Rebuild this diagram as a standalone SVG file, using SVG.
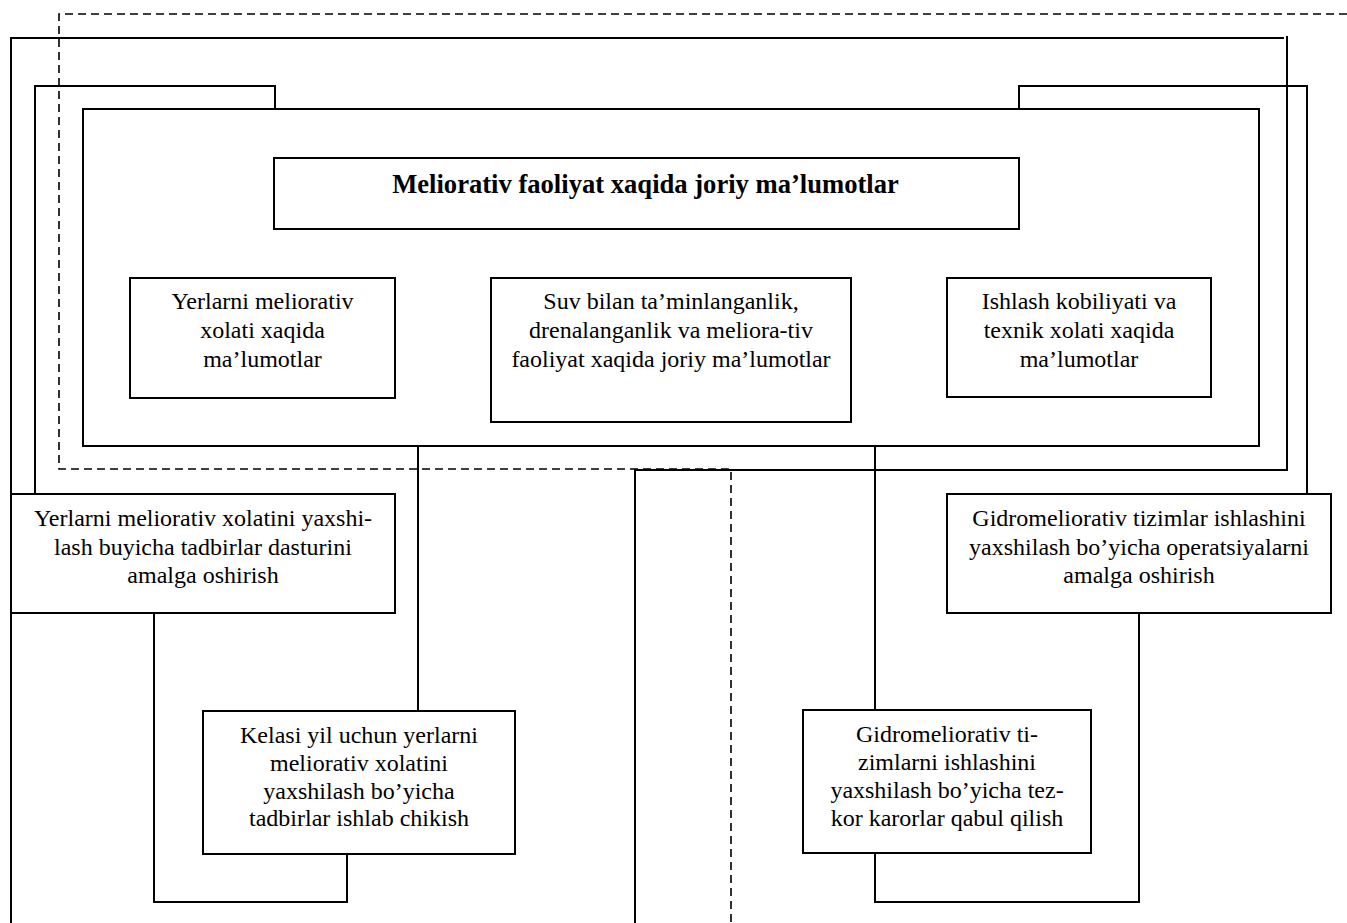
<svg xmlns="http://www.w3.org/2000/svg" width="1347" height="923" viewBox="0 0 1347 923">
<style>
.box{fill:#fff;stroke:#000;stroke-width:2}
.frame{fill:none;stroke:#000;stroke-width:2}
.ln{fill:none;stroke:#000;stroke-width:2}
.dash{fill:none;stroke:#000;stroke-width:1.6;stroke-dasharray:8,5}
text{font-family:"Liberation Serif","Times New Roman",serif;font-size:24px;fill:#000;text-anchor:middle}
.title{font-weight:bold;font-size:26.6px}
</style>
<rect width="1347" height="923" fill="#fff"/>
<g id="connectors">
<path class="dash" d="M1347,14 H59 V469 H731 V923"/>
<path class="ln" d="M11,923 V38 H1284"/>
<path class="ln" d="M1287,36 V470 H635 V923"/>
<path class="ln" d="M35,494 V86 H275 V109"/>
<path class="ln" d="M1019,109 V86 H1307 V494"/>
<path class="ln" d="M418,446 V711"/>
<path class="ln" d="M875,446 V710"/>
<path class="ln" d="M154,613 V902 H347 V854"/>
<path class="ln" d="M875,853 V902 H1139 V613"/>
</g>
<g id="frame">
<rect class="frame" x="83" y="109" width="1176" height="337"/>
</g>
<g id="n-title">
<rect class="box" x="274" y="158" width="745" height="71"/>
<text class="title" x="645.5" y="193">Meliorativ faoliyat xaqida joriy ma’lumotlar</text>
</g>
<g id="n-left">
<rect class="box" x="130" y="278" width="265" height="120"/>
<text x="262.5" y="309">Yerlarni meliorativ</text>
<text x="262.5" y="338">xolati xaqida</text>
<text x="262.5" y="367">ma’lumotlar</text>
</g>
<g id="n-middle">
<rect class="box" x="491" y="278" width="360" height="144"/>
<text x="671" y="309">Suv bilan ta’minlanganlik,</text>
<text x="671" y="338">drenalanganlik va meliora-tiv</text>
<text x="671" y="367">faoliyat xaqida joriy ma’lumotlar</text>
</g>
<g id="n-right">
<rect class="box" x="947" y="278" width="264" height="119"/>
<text x="1079" y="309">Ishlash kobiliyati va</text>
<text x="1079" y="338">texnik xolati xaqida</text>
<text x="1079" y="367">ma’lumotlar</text>
</g>
<g id="n-program">
<rect class="box" x="11" y="494" width="384" height="119"/>
<text x="203" y="526">Yerlarni meliorativ xolatini yaxshi-</text>
<text x="203" y="555">lash buyicha tadbirlar dasturini</text>
<text x="203" y="583">amalga oshirish</text>
</g>
<g id="n-operations">
<rect class="box" x="947" y="494" width="384" height="119"/>
<text x="1139" y="526">Gidromeliorativ tizimlar ishlashini</text>
<text x="1139" y="555">yaxshilash bo’yicha operatsiyalarni</text>
<text x="1139" y="583">amalga oshirish</text>
</g>
<g id="n-nextyear">
<rect class="box" x="203" y="711" width="312" height="143"/>
<text x="359" y="743">Kelasi yil uchun yerlarni</text>
<text x="359" y="771">meliorativ xolatini</text>
<text x="359" y="799">yaxshilash bo’yicha</text>
<text x="359" y="826">tadbirlar ishlab chikish</text>
</g>
<g id="n-decisions">
<rect class="box" x="803" y="710" width="288" height="143"/>
<text x="947" y="742">Gidromeliorativ ti-</text>
<text x="947" y="770">zimlarni ishlashini</text>
<text x="947" y="798">yaxshilash bo’yicha tez-</text>
<text x="947" y="826">kor karorlar qabul qilish</text>
</g>
</svg>
